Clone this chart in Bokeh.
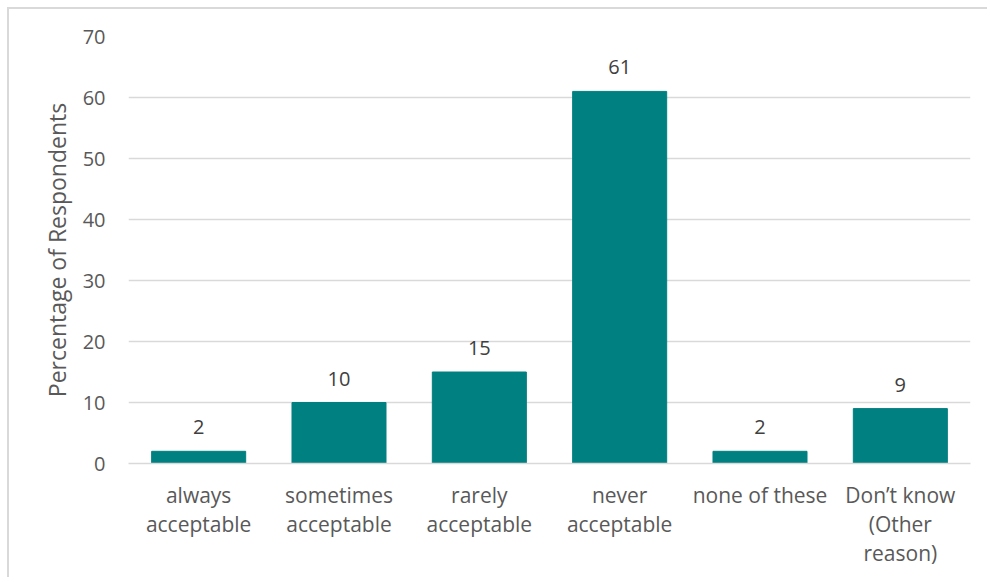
from bokeh.plotting import figure
from bokeh.models import ColumnDataSource, FactorRange, Range1d, FixedTicker
from bokeh.core.properties import value
from bokeh.embed import file_html
from bokeh.resources import INLINE

categories = ["always\nacceptable", "sometimes\nacceptable", "rarely\nacceptable",
              "never\nacceptable", "none of these", "Don’t know\n(Other\nreason)"]
values = [2, 10, 15, 61, 2, 9]
y_ticks = [0, 10, 20, 30, 40, 50, 60, 70]

FONT = "Open Sans"
TEXT = "#595959"

src = ColumnDataSource(dict(cat=categories, val=values, lab=[str(v) for v in values]))

p = figure(x_range=FactorRange(*categories, range_padding=0), y_range=Range1d(0, 70),
           width=980, height=570, output_backend="svg", toolbar_location=None,
           min_border_left=119, min_border_right=19, min_border_top=27, min_border_bottom=116)
p.margin = (7, 0, 0, 7)
p.styles = {"border-left": "2px solid #d9d9d9", "border-top": "2px solid #d9d9d9"}
p.outline_line_color = None

p.vbar(x="cat", top="val", width=0.67, source=src, color="#008080")
p.text(x="cat", y="val", text="lab", source=src, y_offset=-17,
       text_align="center", text_baseline="bottom", text_color="#404040",
       text_font=value(FONT), text_font_size="20px")

p.yaxis.ticker = FixedTicker(ticks=y_ticks)
p.yaxis.axis_line_color = None
p.yaxis.major_tick_line_color = None
p.yaxis.minor_tick_line_color = None
p.yaxis.major_label_standoff = 17
p.yaxis.major_label_text_font = FONT
p.yaxis.major_label_text_font_size = "20px"
p.yaxis.major_label_text_color = TEXT
p.yaxis.axis_label = "Percentage of Respondents"
p.yaxis.axis_label_text_font = FONT
p.yaxis.axis_label_text_font_size = "23px"
p.yaxis.axis_label_text_font_style = "normal"
p.yaxis.axis_label_text_color = TEXT
p.yaxis.axis_label_standoff = 7

p.xaxis.axis_line_color = "#d9d9d9"
p.xaxis.axis_line_width = 1.5
p.xaxis.major_tick_line_color = None
p.xaxis.minor_tick_line_color = None
p.xaxis.major_label_standoff = 11
p.xaxis.major_label_text_font = FONT
p.xaxis.major_label_text_font_size = "21px"
p.xaxis.major_label_text_line_height = 1.04
p.xaxis.major_label_text_color = TEXT

p.xgrid.grid_line_color = None
p.ygrid.grid_line_color = "#d9d9d9"
p.ygrid.grid_line_width = 1.5

open("out.html", "w").write(file_html(p, INLINE))
